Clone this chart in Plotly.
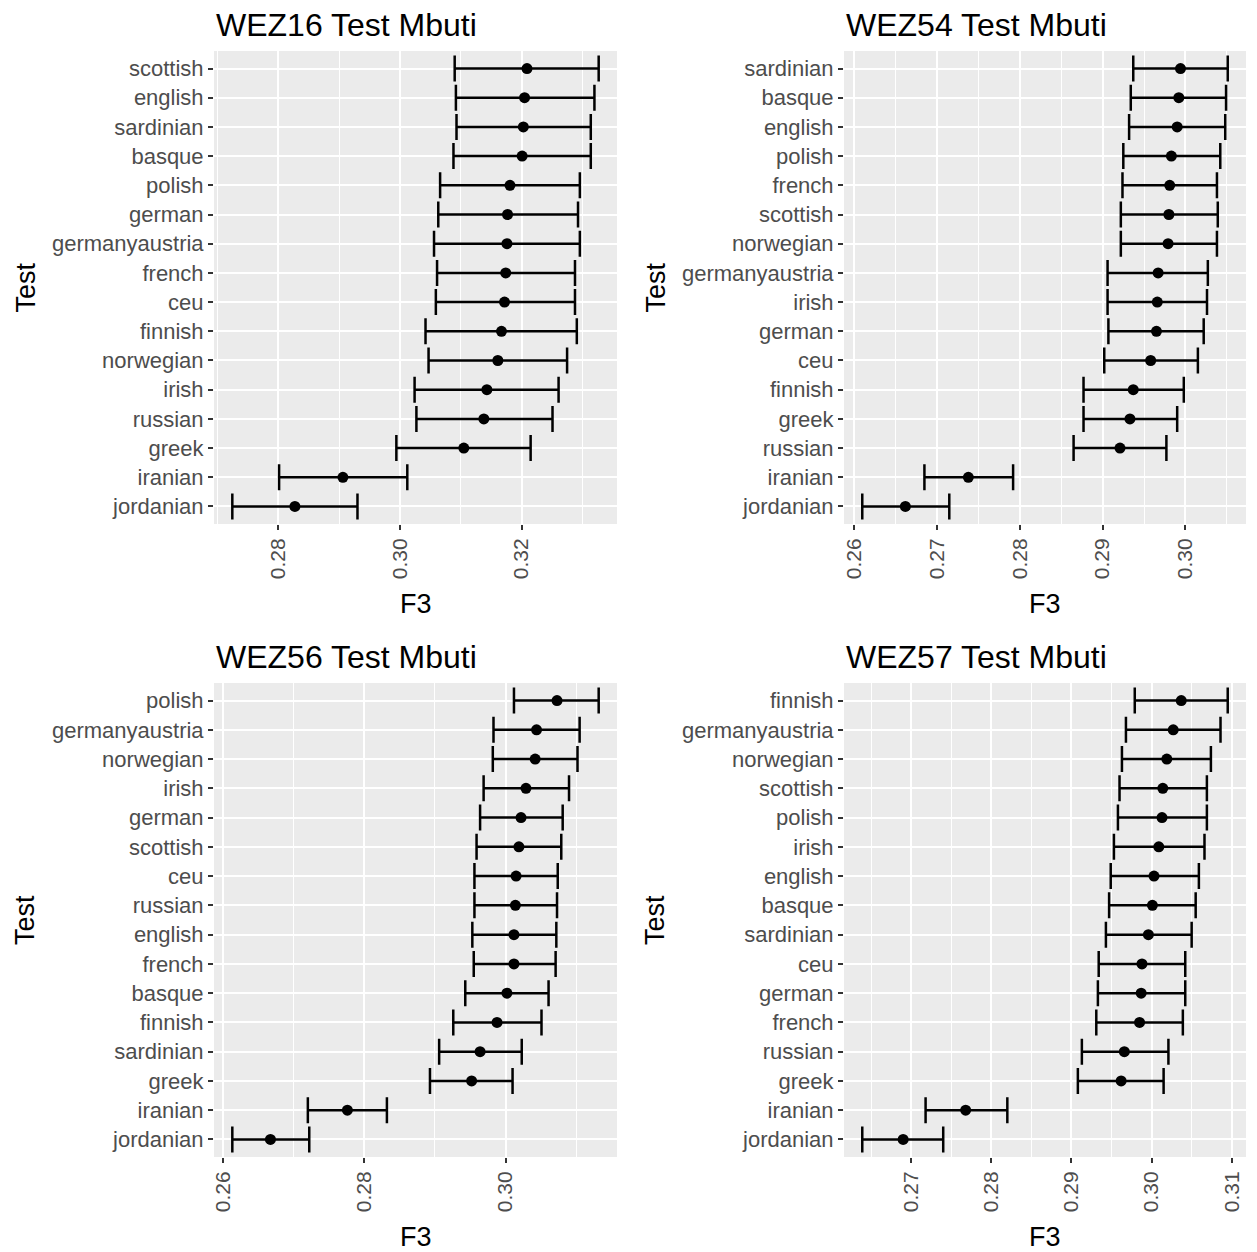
import plotly.graph_objects as go

# ---------------- data ----------------
titles = ["WEZ16 Test Mbuti", "WEZ54 Test Mbuti", "WEZ56 Test Mbuti", "WEZ57 Test Mbuti"]

wez16_test = ["scottish", "english", "sardinian", "basque", "polish", "german", "germanyaustria",
              "french", "ceu", "finnish", "norwegian", "irish", "russian", "greek", "iranian", "jordanian"]
wez16_f3 = [0.3209, 0.3205, 0.3203, 0.3201, 0.3181, 0.3177, 0.3176, 0.3174, 0.3172, 0.3167,
            0.3161, 0.3143, 0.3138, 0.3105, 0.2906, 0.2827]
wez16_lo = [0.3090, 0.3092, 0.3093, 0.3088, 0.3066, 0.3063, 0.3056, 0.3061, 0.3059, 0.3042,
            0.3047, 0.3024, 0.3027, 0.2994, 0.2801, 0.2724]
wez16_hi = [0.3327, 0.3320, 0.3314, 0.3314, 0.3296, 0.3293, 0.3296, 0.3288, 0.3288, 0.3291,
            0.3275, 0.3261, 0.3251, 0.3215, 0.3012, 0.2930]

wez54_test = ["sardinian", "basque", "english", "polish", "french", "scottish", "norwegian",
              "germanyaustria", "irish", "german", "ceu", "finnish", "greek", "russian", "iranian", "jordanian"]
wez54_f3 = [0.2994, 0.2992, 0.2990, 0.2983, 0.2981, 0.2980, 0.2979, 0.2967, 0.2966, 0.2965,
            0.2958, 0.2937, 0.2933, 0.2921, 0.2738, 0.2662]
wez54_lo = [0.2937, 0.2934, 0.2932, 0.2925, 0.2924, 0.2922, 0.2922, 0.2906, 0.2906, 0.2907,
            0.2902, 0.2877, 0.2877, 0.2865, 0.2685, 0.2610]
wez54_hi = [0.3051, 0.3049, 0.3048, 0.3042, 0.3038, 0.3039, 0.3038, 0.3027, 0.3026, 0.3022,
            0.3015, 0.2998, 0.2990, 0.2977, 0.2792, 0.2715]

wez56_test = ["polish", "germanyaustria", "norwegian", "irish", "german", "scottish", "ceu",
              "russian", "english", "french", "basque", "finnish", "sardinian", "greek", "iranian", "jordanian"]
wez56_f3 = [0.3073, 0.3044, 0.3042, 0.3029, 0.3022, 0.3019, 0.3015, 0.3014, 0.3012, 0.3012,
            0.3002, 0.2988, 0.2964, 0.2952, 0.2776, 0.2667]
wez56_lo = [0.3012, 0.2983, 0.2982, 0.2969, 0.2964, 0.2959, 0.2956, 0.2956, 0.2953, 0.2955,
            0.2943, 0.2926, 0.2906, 0.2893, 0.2720, 0.2613]
wez56_hi = [0.3132, 0.3105, 0.3102, 0.3090, 0.3081, 0.3079, 0.3074, 0.3073, 0.3072, 0.3071,
            0.3061, 0.3051, 0.3023, 0.3010, 0.2832, 0.2722]

wez57_test = ["finnish", "germanyaustria", "norwegian", "scottish", "polish", "irish", "english",
              "basque", "sardinian", "ceu", "german", "french", "russian", "greek", "iranian", "jordanian"]
wez57_f3 = [0.3037, 0.3027, 0.3019, 0.3014, 0.3013, 0.3009, 0.3003, 0.3001, 0.2996, 0.2988,
            0.2987, 0.2985, 0.2966, 0.2962, 0.2768, 0.2690]
wez57_lo = [0.2979, 0.2968, 0.2963, 0.2960, 0.2958, 0.2953, 0.2949, 0.2947, 0.2943, 0.2934,
            0.2933, 0.2931, 0.2913, 0.2908, 0.2718, 0.2639]
wez57_hi = [0.3095, 0.3086, 0.3074, 0.3069, 0.3069, 0.3066, 0.3059, 0.3055, 0.3050, 0.3042,
            0.3042, 0.3039, 0.3021, 0.3015, 0.2820, 0.2740]

# major tick step per panel (minor lines halfway)
major_step = [0.02, 0.01, 0.02, 0.01]

panels = [
    (wez16_test, wez16_f3, wez16_lo, wez16_hi),
    (wez54_test, wez54_f3, wez54_lo, wez54_hi),
    (wez56_test, wez56_f3, wez56_lo, wez56_hi),
    (wez57_test, wez57_f3, wez57_lo, wez57_hi),
]

# ---------------- layout geometry ----------------
W, H = 1257, 1252
FONT = "Liberation Sans, Arial, Helvetica, sans-serif"
px_x = [(214, 617), (844, 1246), (214, 617), (844, 1246)]
px_y = [(51, 524), (51, 524), (683, 1157), (683, 1157)]

fig = go.Figure()
annotations = []
layout_axes = {}

for i, (test, f3, lo, hi) in enumerate(panels):
    n = i + 1
    xa = "x" if n == 1 else f"x{n}"
    ya = "y" if n == 1 else f"y{n}"
    fig.add_trace(go.Scatter(
        x=f3, y=test, mode="markers",
        marker=dict(color="black", size=11),
        error_x=dict(type="data", symmetric=False,
                     array=[h - v for h, v in zip(hi, f3)],
                     arrayminus=[v - l for v, l in zip(f3, lo)],
                     color="black", thickness=2.5, width=13),
        xaxis=xa, yaxis=ya, showlegend=False, hoverinfo="x+y",
    ))
    lo_min, hi_max = min(lo), max(hi)
    span = hi_max - lo_min
    xr = [lo_min - 0.05 * span, hi_max + 0.05 * span]
    x0, x1 = px_x[i]
    y0, y1 = px_y[i]
    step = major_step[i]
    layout_axes["xaxis" + ("" if n == 1 else str(n))] = dict(
        domain=[x0 / W, x1 / W], anchor=ya, range=xr, automargin=False,
        tick0=0, dtick=step, tickformat=".2f",
        showgrid=True, gridcolor="white", gridwidth=2,
        minor=dict(tick0=0, dtick=step / 2, showgrid=True, gridcolor="white", gridwidth=1, ticks=""),
        zeroline=False, showline=False,
        ticks="outside", ticklen=5, tickwidth=2, tickcolor="#333333",
        tickangle=-90,
        tickfont=dict(family=FONT, size=21, color="#4D4D4D"),
    )
    layout_axes["yaxis" + ("" if n == 1 else str(n))] = dict(
        domain=[1 - y1 / H, 1 - y0 / H], anchor=xa, automargin=False,
        type="category", categoryorder="array", categoryarray=test,
        range=[len(test) - 0.4, -0.6],
        showgrid=True, gridcolor="white", gridwidth=2,
        zeroline=False, showline=False,
        ticks="outside", ticklen=5, tickwidth=2, tickcolor="#333333",
        tickfont=dict(family=FONT, size=22, color="#4D4D4D"),
    )
    # panel title
    annotations.append(dict(
        text=titles[i], xref="paper", yref="paper", x=x0 / W, y=1 - (y0 - 26) / H,
        xanchor="left", yanchor="middle", showarrow=False,
        font=dict(family=FONT, size=32, color="black"),
    ))
    # x axis title
    annotations.append(dict(
        text="F3", xref="paper", yref="paper", x=(x0 + x1) / 2 / W, y=1 - (y1 + 80) / H,
        xanchor="center", yanchor="middle", showarrow=False,
        font=dict(family=FONT, size=27, color="black"),
    ))
    # y axis title
    annotations.append(dict(
        text="Test", xref="paper", yref="paper", x=(x0 - 189) / W, y=1 - (y0 + y1) / 2 / H,
        xanchor="center", yanchor="middle", showarrow=False, textangle=-90,
        font=dict(family=FONT, size=27, color="black"),
    ))

fig.update_layout(
    width=W, height=H,
    margin=dict(l=0, r=0, t=0, b=0, autoexpand=False),
    paper_bgcolor="white", plot_bgcolor="#EBEBEB",
    font=dict(family=FONT),
    annotations=annotations,
    **layout_axes,
)

fig.write_html(
    "out.html",
    config={"displayModeBar": False},
    post_script="document.body.style.margin='0px';document.body.style.overflow='hidden';",
)
